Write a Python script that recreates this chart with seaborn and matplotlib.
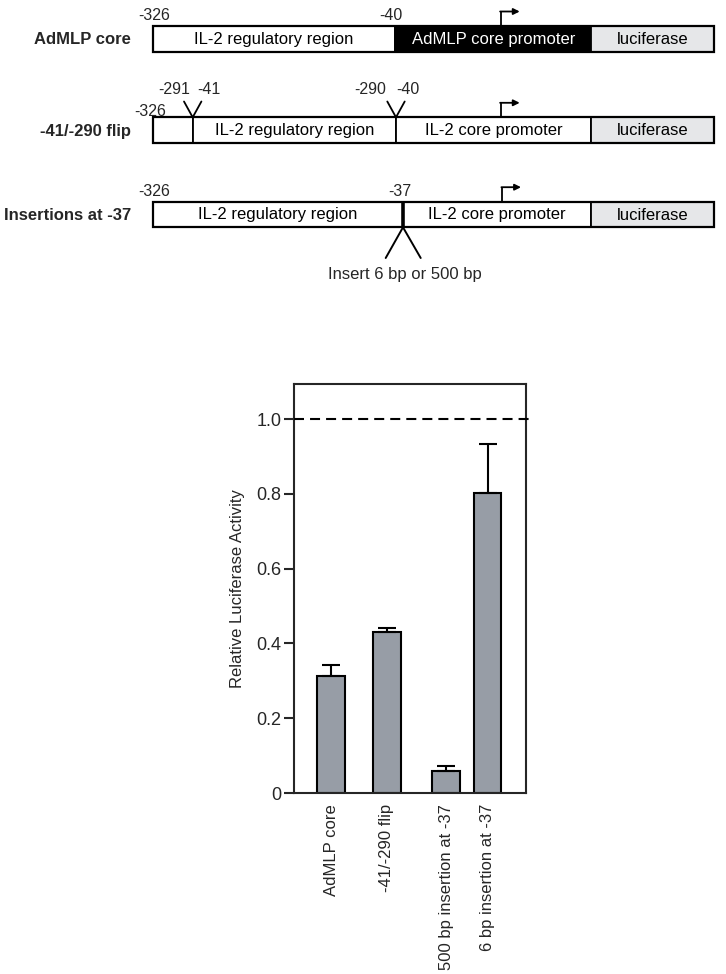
"""Diagrama dos construtos IL-2/luciferase e atividade relativa de luciferase."""

import matplotlib

matplotlib.use("Agg")
import matplotlib.pyplot as plt
import numpy as np
import pandas as pd
import seaborn as sns

# ---------------------------------------------------------------------------
# Dados
# ---------------------------------------------------------------------------

CONSTRUCTS = ["AdMLP core", "-41/-290 flip", "500 bp insertion at -37", "6 bp insertion at -37"]
ACTIVITY = [0.313, 0.430, 0.059, 0.802]
ERR_UP = [0.029, 0.012, 0.014, 0.131]
REFERENCE_LEVEL = 1.0
Y_TICKS = [0, 0.2, 0.4, 0.6, 0.8, 1.0]
Y_TICK_LABELS = ["0", "0.2", "0.4", "0.6", "0.8", "1.0"]
Y_LABEL = "Relative Luciferase Activity"

ROW_NAMES = ["AdMLP core", "-41/-290 flip", "Insertions at -37"]
ROW_SEGMENTS = [
    ["IL-2 regulatory region", "AdMLP core promoter", "luciferase"],
    ["", "IL-2 regulatory region", "IL-2 core promoter", "luciferase"],
    ["IL-2 regulatory region", "IL-2 core promoter", "luciferase"],
]
INSERT_NOTE = "Insert 6 bp or 500 bp"

# ---------------------------------------------------------------------------
# Layout (pixels of the 726x974 figure)
# ---------------------------------------------------------------------------

W, H = 726, 974
BAR_X = [331, 387, 446, 487.5]
BAR_GRAY = "#979da6"
LUX_GRAY = "#e6e7e9"

ROW_TOPS = [26, 117.3, 201.7]
ROW_H = 25.6
ROW_EDGES = [
    [152.7, 395.3, 591.3, 713.7],
    [152.7, 192.7, 396, 591.3, 713.7],
    [152.7, 403, 591.3, 713.7],
]
ROW_FILLS = [
    ["white", "black", LUX_GRAY],
    ["white", "white", "white", LUX_GRAY],
    ["white", "white", LUX_GRAY],
]
# (texto, x, y) das coordenadas de nucleotídeo
POS_LABELS = [
    ("-326", 154, 16), ("-40", 391, 16),
    ("-291", 174, 90), ("-41", 208.5, 90), ("-326", 150, 111),
    ("-290", 370, 90), ("-40", 408, 90),
    ("-326", 154, 192), ("-37", 400, 192),
]
PROMOTER_X = [500.7, 500.7, 502]

sns.set_style("ticks")
plt.rcParams["font.family"] = ["Liberation Sans", "DejaVu Sans"]

fig = plt.figure(figsize=(W / 100, H / 100), dpi=100)

# ---------------------------------------------------------------------------
# Diagrama dos construtos
# ---------------------------------------------------------------------------

DH = 300
ax_d = fig.add_axes([0, 1 - DH / H, 1, DH / H])
ax_d.set_xlim(0, W)
ax_d.set_ylim(DH, 0)
ax_d.axis("off")

for r, (name, labels, edges, fills) in enumerate(zip(ROW_NAMES, ROW_SEGMENTS, ROW_EDGES, ROW_FILLS)):
    top = ROW_TOPS[r]
    mid = top + ROW_H / 2
    for i, (lab, fill) in enumerate(zip(labels, fills)):
        x0, x1 = edges[i], edges[i + 1]
        ax_d.add_patch(plt.Rectangle((x0, top), x1 - x0, ROW_H, facecolor=fill,
                                     edgecolor="black", linewidth=1.3))
        if lab:
            ax_d.text((x0 + x1) / 2, mid + 0.5, lab, ha="center", va="center", fontsize=12,
                      color="white" if fill == "black" else "black")
    # contorno externo mais grosso
    ax_d.add_patch(plt.Rectangle((edges[0], top), edges[-1] - edges[0], ROW_H, fill=False,
                                 edgecolor="black", linewidth=1.6))
    ax_d.text(131, mid + 1, name, ha="right", va="center", fontsize=12, fontweight="bold")
    # seta de início de transcrição
    px = PROMOTER_X[r]
    ax_d.plot([px, px], [top, top - 14.5], color="black", lw=1.3, solid_capstyle="butt")
    ax_d.annotate("", xy=(px + 19, top - 14.5), xytext=(px - 0.6, top - 14.5),
                  arrowprops=dict(arrowstyle="-|>", color="black", lw=1.3,
                                  mutation_scale=9, shrinkA=0, shrinkB=0))

for txt, x, y in POS_LABELS:
    ax_d.text(x, y, txt, ha="center", va="center", fontsize=11.5)

# junções invertidas no construto "flip"
for jx in (192.7, 396):
    ax_d.plot([jx - 8.7, jx, jx + 8.7], [101.5, 117.3, 101.5], color="black", lw=1.3)

# ponto de inserção em -37
ax_d.plot([403, 403], [201.7, 227.3], color="black", lw=2.6, solid_capstyle="butt")
ax_d.plot([385.7, 403, 420.7], [258, 227.3, 258], color="black", lw=1.4)
ax_d.text(405, 275, INSERT_NOTE, ha="center", va="center", fontsize=12)

# ---------------------------------------------------------------------------
# Gráfico de barras
# ---------------------------------------------------------------------------

ax = fig.add_axes([294 / W, (H - 793) / H, (526 - 294) / W, (793 - 384) / H])
df = pd.DataFrame({"construct": CONSTRUCTS, "activity": ACTIVITY, "pos": BAR_X})
sns.barplot(data=df, x="pos", y="activity", native_scale=True, width=0.66,
            color=BAR_GRAY, saturation=1, edgecolor="black", linewidth=1.5,
            errorbar=None, ax=ax)
ax.errorbar(df["pos"], df["activity"], yerr=[np.zeros(len(ERR_UP)), ERR_UP], fmt="none",
            ecolor="black", elinewidth=1.5, capsize=6.8, capthick=1.5, zorder=3)
ax.axhline(REFERENCE_LEVEL, xmin=0, xmax=1.022, color="black", lw=1.5,
           ls=(0, (4.8, 2.9)), clip_on=False, zorder=4)

ax.set_xlim(294, 526)
ax.set_ylim(0, 1.094)
ax.set_yticks(Y_TICKS, Y_TICK_LABELS, fontsize=13)
ax.set_xticks(BAR_X, CONSTRUCTS, rotation=90, fontsize=12)
ax.tick_params(axis="x", length=0, pad=8)
ax.tick_params(axis="y", direction="out", length=7, width=1.5, pad=2)
ax.set_xlabel("")
ax.set_ylabel(Y_LABEL, fontsize=12, labelpad=8)
for sp in ax.spines.values():
    sp.set_visible(True)
    sp.set_linewidth(1.5)

fig.savefig("out.png", dpi=100)
